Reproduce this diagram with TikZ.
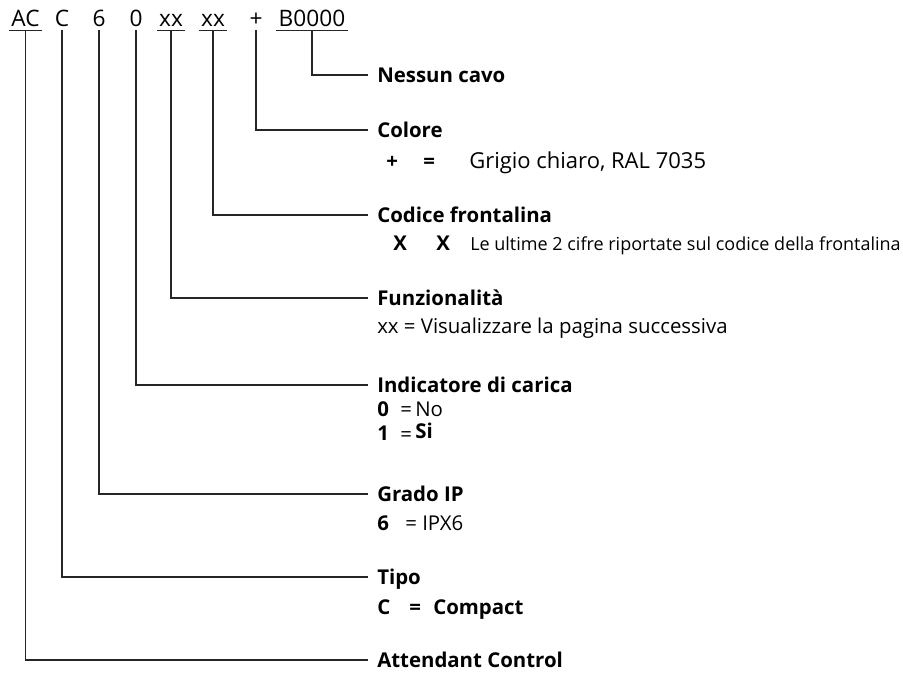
\documentclass[tikz,border=0pt]{standalone}
\usepackage{fontspec}
\setmainfont{Open Sans}
\usetikzlibrary{positioning}

\begin{document}
\begin{tikzpicture}[
    x=0.75pt, y=-0.75pt,
    code/.style={anchor=base, inner xsep=1.5pt, inner ysep=3pt, text depth=0pt, font=\fontsize{17}{20}\selectfont},
    title/.style={anchor=west, inner xsep=6.75pt, inner ysep=0pt, text height=11pt, text depth=0pt, font=\fontsize{15.3}{18}\selectfont\bfseries},
    sub/.style={anchor=west, inner sep=0pt, text height=11pt, text depth=0pt, font=\fontsize{15.3}{18}\selectfont},
    subbf/.style={sub, font=\fontsize{15.3}{18}\selectfont\bfseries},
    small/.style={sub, font=\fontsize{13.5}{16}\selectfont},
    leader/.style={draw, line width=1pt, color=black!85},
    uline/.style={draw, line width=0.9pt, color=black!85}
]

\useasboundingbox (0,0) rectangle (903,675);

% Define code positions
\node[code] (ac) at (25.5, 26) {AC};
\node[code] (type) at (62, 26) {C};
\node[code] (ip) at (99, 26) {6};
\node[code] (charge) at (136, 26) {0};
\node[code] (func) at (171, 26) {xx};
\node[code] (front) at (213, 26) {xx};
\node[code] (color) at (256, 26) {+};
\node[code] (cable) at (312, 26) {B0000};

% Underline the grouped codes
\draw[uline] (ac.south west) -- (ac.south east);
\draw[uline] (func.south west) -- (func.south east);
\draw[uline] (front.south west) -- (front.south east);
\draw[uline] (cable.south west) -- (cable.south east);

% Add section titles
\node[title] (tcable) at (368, 75) {Nessun cavo};
\node[title] (tcolor) at (368, 130) {Colore};
\node[title] (tfront) at (368, 215) {Codice frontalina};
\node[title] (tfunc) at (368, 298) {Funzionalità};
\node[title] (tcharge) at (368, 385) {Indicatore di carica};
\node[title] (tip) at (368, 494) {Grado IP};
\node[title] (ttype) at (368, 577) {Tipo};
\node[title] (tac) at (368, 660) {Attendant Control};

% Add option values
\node[subbf] (cplus) at (386, 161) {+};
\node[subbf] (ceq) at (423, 161) {=};
\node[sub, font=\fontsize{16.5}{19}\selectfont] (cval) at (469, 161) {Grigio chiaro, RAL 7035};
\node[subbf] (fx1) at (393, 243) {X};
\node[subbf] (fx2) at (436, 243) {X};
\node[small] (fval) at (470, 243) {Le ultime 2 cifre riportate sul codice della frontalina};
\node[sub] (fnval) at (377, 326) {xx = Visualizzare la pagina successiva};
\node[subbf] (ch0) at (377, 409) {0};
\node[sub] (ch0eq) at (400, 409) {=};
\node[sub] (ch0val) at (415, 409) {No};
\node[subbf] (ch1) at (377, 433) {1};
\node[sub] (ch1eq) at (400, 434) {=};
\node[subbf] (ch1val) at (415, 431) {Si};
\node[subbf] (ip6) at (377, 523) {6};
\node[sub] (ipeq) at (405, 523) {=};
\node[sub] (ipval) at (422, 523) {IPX6};
\node[subbf] (tyc) at (377, 607) {C};
\node[subbf] (tyeq) at (409, 607) {=};
\node[subbf] (tyval) at (433, 607) {Compact};

% Draw leaders from codes to titles
\draw[leader] (cable.south) |- (tcable.west);
\draw[leader] (color.south) |- (tcolor.west);
\draw[leader] (front.south) |- (tfront.west);
\draw[leader] (func.south) |- (tfunc.west);
\draw[leader] (charge.south) |- (tcharge.west);
\draw[leader] (ip.south) |- (tip.west);
\draw[leader] (type.south) |- (ttype.west);
\draw[leader] (ac.south) |- (tac.west);

\end{tikzpicture}
\end{document}
